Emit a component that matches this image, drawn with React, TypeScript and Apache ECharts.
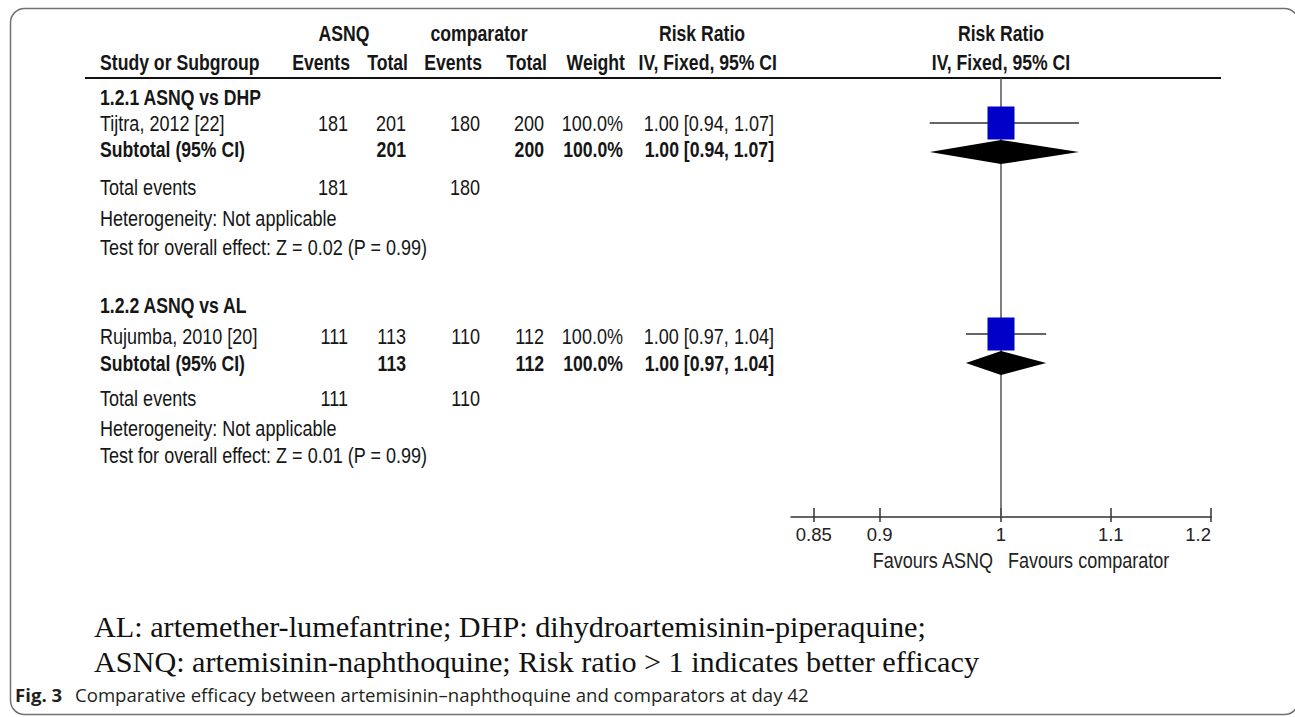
import React, { useEffect, useRef } from "react";
import * as echarts from "echarts";

// ---------- data ----------
const groupTitles = ["1.2.1 ASNQ vs DHP", "1.2.2 ASNQ vs AL"];
const studyNames = ["Tijtra, 2012 [22]", "Rujumba, 2010 [20]"];
const asnqEvents = [181, 111];
const asnqTotal = [201, 113];
const compEvents = [180, 110];
const compTotal = [200, 112];
const weights = ["100.0%", "100.0%"];
const studyRR = [1.0, 1.0];
const studyLow = [0.94, 0.97];
const studyHigh = [1.07, 1.04];
const subtotalRR = [1.0, 1.0];
const subtotalLow = [0.94, 0.97];
const subtotalHigh = [1.07, 1.04];
const heterogeneity = ["Not applicable", "Not applicable"];
const zValues = ["0.02", "0.01"];
const pValues = ["0.99", "0.99"];
const tickValues = [0.85, 0.9, 1, 1.1, 1.2];
const tickLabels = ["0.85", "0.9", "1", "1.1", "1.2"];
const axisEnds = [1 / 1.2, 1.2];

// ---------- layout ----------
const W = 1295;
const H = 717;
const SANS = "'Liberation Sans', Arial, sans-serif";
const SERIF = "'Liberation Serif', 'Times New Roman', serif";
const CAPTION = "'Open Sans', 'Noto Sans', sans-serif";
const TEXT = "#161616";
const NARROW_SCALE = 0.82;
const FS = 22;
const FS_BOLD = 21.5;
const HEADER_LINE_Y = 78;
const AXIS_Y = 517;
const PLOT_LEFT = 791;
const PLOT_RIGHT = 1211;
// rows per group: title, study, subtotal, total events, heterogeneity, test
const GROUP_ROW_Y = [
  [97, 123, 149, 187, 218, 247],
  [305, 336, 363, 398, 428, 455],
];
const STUDY_PLOT_Y = [123, 334];
const SUBTOTAL_PLOT_Y = [152, 363];
const COL = { name: 100, aEv: 348, aTot: 406, cEv: 480, cTot: 544, wt: 623, rr: 774 };

const fmtRR = (r: number, l: number, h: number) =>
  `${r.toFixed(2)} [${l.toFixed(2)}, ${h.toFixed(2)}]`;

function txt(text: string, x: number, y: number, o: any = {}) {
  const narrow = !o.family;
  const size = o.size || (o.bold ? FS_BOLD : FS);
  return {
    type: "text",
    x,
    y,
    scaleX: narrow ? NARROW_SCALE : 1,
    silent: true,
    style: {
      text,
      fill: o.fill || TEXT,
      font: `${o.bold ? "bold " : ""}${size}px ${o.family || SANS}`,
      textAlign: o.align || "left",
      textVerticalAlign: "middle",
    },
  };
}

function buildGraphics() {
  const g: any[] = [];
  // frame
  g.push({
    type: "rect",
    silent: true,
    shape: { x: 10.5, y: 8.5, width: 1288, height: 706, r: 14 },
    style: { fill: "none", stroke: "#707070", lineWidth: 1.5 },
  });
  // header
  g.push(txt("ASNQ", 344, 33, { bold: true, align: "center" }));
  g.push(txt("comparator", 479, 33, { bold: true, align: "center" }));
  g.push(txt("Risk Ratio", 702, 33, { bold: true, align: "center" }));
  g.push(txt("Risk Ratio", 1001, 33, { bold: true, align: "center" }));
  g.push(txt("Study or Subgroup", COL.name, 62, { bold: true }));
  g.push(txt("Events", 350, 62, { bold: true, align: "right" }));
  g.push(txt("Total", 408, 62, { bold: true, align: "right" }));
  g.push(txt("Events", 482, 62, { bold: true, align: "right" }));
  g.push(txt("Total", 547, 62, { bold: true, align: "right" }));
  g.push(txt("Weight", 625, 62, { bold: true, align: "right" }));
  g.push(txt("IV, Fixed, 95% CI", 777, 62, { bold: true, align: "right" }));
  g.push(txt("IV, Fixed, 95% CI", 1001, 62, { bold: true, align: "center" }));
  g.push({
    type: "line",
    silent: true,
    shape: { x1: 85, y1: HEADER_LINE_Y, x2: 1221, y2: HEADER_LINE_Y },
    style: { stroke: "#111", lineWidth: 2.2 },
  });

  for (let i = 0; i < groupTitles.length; i++) {
    const r = GROUP_ROW_Y[i];
    g.push(txt(groupTitles[i], COL.name, r[0], { bold: true }));
    // study row
    g.push(txt(studyNames[i], COL.name, r[1]));
    g.push(txt(String(asnqEvents[i]), COL.aEv, r[1], { align: "right" }));
    g.push(txt(String(asnqTotal[i]), COL.aTot, r[1], { align: "right" }));
    g.push(txt(String(compEvents[i]), COL.cEv, r[1], { align: "right" }));
    g.push(txt(String(compTotal[i]), COL.cTot, r[1], { align: "right" }));
    g.push(txt(weights[i], COL.wt, r[1], { align: "right" }));
    g.push(txt(fmtRR(studyRR[i], studyLow[i], studyHigh[i]), COL.rr, r[1], { align: "right" }));
    // subtotal row
    g.push(txt("Subtotal (95% CI)", COL.name, r[2], { bold: true }));
    g.push(txt(String(asnqTotal[i]), COL.aTot, r[2], { bold: true, align: "right" }));
    g.push(txt(String(compTotal[i]), COL.cTot, r[2], { bold: true, align: "right" }));
    g.push(txt(weights[i], COL.wt, r[2], { bold: true, align: "right" }));
    g.push(txt(fmtRR(subtotalRR[i], subtotalLow[i], subtotalHigh[i]), COL.rr, r[2], { bold: true, align: "right" }));
    // totals
    g.push(txt("Total events", COL.name, r[3]));
    g.push(txt(String(asnqEvents[i]), COL.aEv, r[3], { align: "right" }));
    g.push(txt(String(compEvents[i]), COL.cEv, r[3], { align: "right" }));
    g.push(txt(`Heterogeneity: ${heterogeneity[i]}`, COL.name, r[4]));
    g.push(txt(`Test for overall effect: Z = ${zValues[i]} (P = ${pValues[i]})`, COL.name, r[5]));
  }

  // favours labels
  g.push(txt("Favours ASNQ", 993, 560, { align: "right", fill: "#222" }));
  g.push(txt("Favours comparator", 1008, 560, { fill: "#222" }));

  // footnote
  g.push(txt("AL: artemether-lumefantrine; DHP: dihydroartemisinin-piperaquine;", 94, 627, { size: 30.2, family: SERIF, fill: "#111" }));
  g.push(txt("ASNQ: artemisinin-naphthoquine; Risk ratio > 1 indicates better efficacy", 94, 662, { size: 30.2, family: SERIF, fill: "#111" }));
  // caption
  g.push(txt("Fig. 3", 15, 694, { size: 18.6, family: CAPTION, bold: true, fill: "#231f20" }));
  g.push(txt("Comparative efficacy between artemisinin\u2013naphthoquine and comparators at day 42", 75, 694, { size: 18.6, family: CAPTION, fill: "#231f20" }));
  return g;
}

export default function App() {
  const ref = useRef<HTMLDivElement>(null);
  useEffect(() => {
    if (!ref.current) return;
    const chart = echarts.init(ref.current, null, { renderer: "svg", width: W, height: H });
    const ln = Math.log;
    const studyData = studyRR.map((v, i) => [ln(v), ln(studyLow[i]), ln(studyHigh[i]), STUDY_PLOT_Y[i]]);
    const subData = subtotalRR.map((v, i) => [ln(v), ln(subtotalLow[i]), ln(subtotalHigh[i]), SUBTOTAL_PLOT_Y[i]]);
    const tickLog = tickValues.map((v) => ln(v));
    const labelFor = (v: number) => {
      let best = 0;
      tickLog.forEach((t, i) => {
        if (Math.abs(t - v) < Math.abs(tickLog[best] - v)) best = i;
      });
      return tickLabels[best];
    };
    const baseX = {
      type: "value",
      min: ln(axisEnds[0]),
      max: ln(axisEnds[1]),
      position: "bottom",
      splitLine: { show: false },
    };
    chart.setOption({
      animation: false,
      backgroundColor: "#ffffff",
      grid: {
        left: PLOT_LEFT,
        right: W - PLOT_RIGHT,
        top: HEADER_LINE_Y,
        bottom: H - AXIS_Y,
        containLabel: false,
      },
      xAxis: [
        {
          ...baseX,
          axisLine: { show: true, onZero: false, lineStyle: { color: "#333", width: 1.5 } },
          axisTick: {
            show: true,
            inside: true,
            length: 9,
            customValues: tickLog,
            lineStyle: { color: "#333", width: 1.5 },
          },
          axisLabel: {
            show: true,
            customValues: tickLog,
            formatter: (v: number) => labelFor(v),
            margin: 8,
            color: "#222",
            fontSize: 18.5,
            fontFamily: SANS,
            alignMaxLabel: "right",
          },
        },
        {
          ...baseX,
          axisLine: { show: false, onZero: false },
          axisTick: {
            show: true,
            inside: false,
            length: 5,
            customValues: tickLog,
            lineStyle: { color: "#333", width: 1.5 },
          },
          axisLabel: { show: false },
        },
      ],
      yAxis: {
        type: "value",
        inverse: true,
        min: HEADER_LINE_Y,
        max: AXIS_Y,
        show: false,
      },
      graphic: buildGraphics(),
      series: [
        {
          type: "line",
          z: 1,
          silent: true,
          symbol: "none",
          data: [
            [0, HEADER_LINE_Y],
            [0, AXIS_Y],
          ],
          lineStyle: { color: "#555", width: 1.5 },
        },
        {
          type: "custom",
          z: 3,
          silent: true,
          encode: { x: [0, 1, 2], y: 3 },
          data: studyData,
          renderItem: (_p: any, api: any) => {
            const y = api.value(3);
            const est = api.coord([api.value(0), y]);
            const lo = api.coord([api.value(1), y]);
            const hi = api.coord([api.value(2), y]);
            return {
              type: "group",
              children: [
                {
                  type: "line",
                  shape: { x1: lo[0], y1: lo[1], x2: hi[0], y2: hi[1] },
                  style: { stroke: "#333", lineWidth: 1.5 },
                },
                {
                  type: "rect",
                  shape: { x: est[0] - 13.5, y: est[1] - 16.5, width: 27, height: 33 },
                  style: { fill: "#0000c8" },
                },
              ],
            };
          },
        },
        {
          type: "custom",
          z: 4,
          silent: true,
          encode: { x: [0, 1, 2], y: 3 },
          data: subData,
          renderItem: (_p: any, api: any) => {
            const y = api.value(3);
            const est = api.coord([api.value(0), y]);
            const lo = api.coord([api.value(1), y]);
            const hi = api.coord([api.value(2), y]);
            return {
              type: "polygon",
              shape: {
                points: [
                  [lo[0], lo[1]],
                  [est[0], est[1] - 12],
                  [hi[0], hi[1]],
                  [est[0], est[1] + 12],
                ],
              },
              style: { fill: "#000" },
            };
          },
        },
      ],
    });
    return () => chart.dispose();
  }, []);
  return (
    <div
      ref={ref}
      style={{ position: "absolute", left: 0, top: 0, width: W, height: H, background: "#fff" }}
    />
  );
}
